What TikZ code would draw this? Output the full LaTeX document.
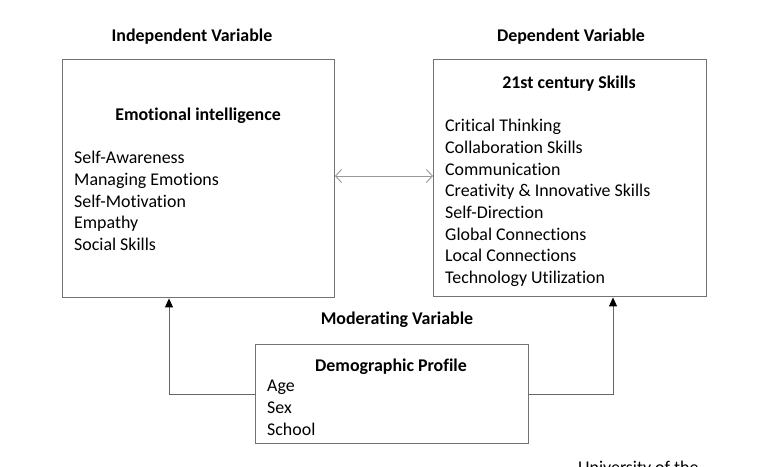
\documentclass[tikz,border=0pt]{standalone}
\usepackage{fontspec}
\setmainfont{Carlito}[RawFeature=-liga]
\usetikzlibrary{arrows.meta}
\begin{document}
\begin{tikzpicture}[x=1pt,y=-1pt,
  every node/.style={font=\fontsize{17.9}{21.7}\selectfont, inner sep=0pt},
  box/.style={draw=black!55, line width=0.9pt, rectangle, anchor=north west},
  head/.style={font=\fontsize{17.9}{21.7}\selectfont\bfseries},
  list/.style={anchor=north west, align=left},
  link/.style={draw=black!60, line width=0.9pt, -{Triangle[length=9pt,width=8pt,color=black]}, shorten >=0.5pt},
  both/.style={draw=black!40, line width=0.9pt, {Straight Barb[length=6pt,width=13pt]}-{Straight Barb[length=6pt,width=13pt]}}]
  \useasboundingbox (0,0) rectangle (778,466);
  \fill[white] (0,0) rectangle (778,466);

  % column headings
  \node[head] (hind) at (192,37) {Independent Variable};
  \node[head] (hdep) at (571,37) {Dependent Variable};
  \node[head] (hmod) at (397,320) {Moderating Variable};

  % independent variable box
  \node[box, minimum width=272pt, minimum height=238pt] (ei) at (62,59) {};
  \node[head] (eit) at (198,116) {Emotional intelligence};
  \node[list] (eil) at (74,151) {Self-Awareness\\Managing Emotions\\Self-Motivation\\Empathy\\Social Skills};

  % dependent variable box
  \node[box, minimum width=273pt, minimum height=237pt] (sk) at (433,59) {};
  \node[head] (skt) at (569,84) {21st century Skills};
  \node[list] (skl) at (445,119) {Critical Thinking\\Collaboration Skills\\Communication\\Creativity \& Innovative Skills\\Self-Direction\\Global Connections\\Local Connections\\Technology Utilization};

  % moderating variable box
  \node[box, minimum width=273pt, minimum height=99pt] (dp) at (255,344) {};
  \node[head] (dpt) at (391,367) {Demographic Profile};
  \node[list] (dpl) at (267,380) {Age\\Sex\\School};

  % connectors
  \coordinate (lx) at (169,0);
  \coordinate (rx) at (613,0);
  \draw[both] (ei.east |- 0,176) -- (sk.west |- 0,176);
  \draw[link] (dp.west) -| (ei.south -| lx);
  \draw[link] (dp.east) -| (sk.south -| rx);

  % running footer, cut by the page edge
  \begin{scope}
    \clip (0,0) rectangle (778,466);
    \node[anchor=west] (foot) at (578,469) {University of the};
  \end{scope}
\end{tikzpicture}
\end{document}
